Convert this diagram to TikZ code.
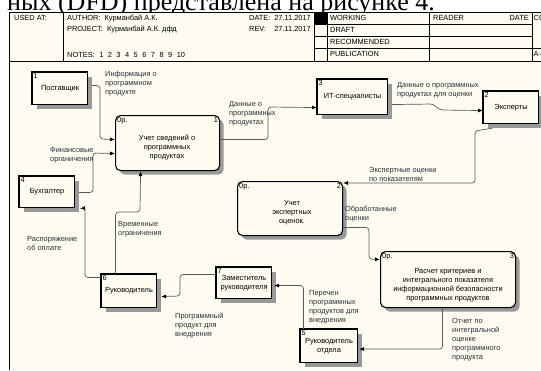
\documentclass[tikz,border=0pt]{standalone}
\usepackage{fontspec}
\setmainfont{Liberation Sans}
\newfontfamily\captionserif{Liberation Serif}
\usetikzlibrary{shadows,arrows.meta}

\definecolor{paper}{RGB}{254,251,240}
\definecolor{flowgray}{RGB}{90,90,90}
\definecolor{labelgray}{RGB}{45,45,55}

\begin{document}
\begin{tikzpicture}[x=1pt, y=-1pt, every node/.style={font=\fontsize{7.4}{9}\selectfont},
		ext/.style={draw, line width=1.1pt, fill=paper, anchor=north west, inner sep=1pt, align=center,
			drop shadow={shadow xshift=4pt, shadow yshift=-4pt, fill=black!40, opacity=1}},
		proc/.style={ext, rounded corners=5pt},
		flow/.style={draw=flowgray, line width=0.7pt, rounded corners=3pt, -{Latex[length=5pt, width=4pt, color=black]}},
		lbl/.style={anchor=north west, inner sep=0pt, align=left, text=labelgray},
		hdr/.style={anchor=base west, inner sep=0pt}]
			\useasboundingbox (0,0) rectangle (541,370);
			\clip (0,0) rectangle (541,370);

			% Caption line above the form
			\node[anchor=base west, inner sep=0pt, font=\captionserif\fontsize{26}{26}\selectfont] (caption) at (7,10) {ных (DFD) представлена на рисунке 4.};

			% Form frame
			\fill[paper] (10,12) rectangle (541,370);
			\draw[line width=0.8pt] (9.5,370) -- (9.5,12) -- (541,12);
			\draw[line width=0.6pt] (9.5,61) -- (541,61);
			\foreach \x in {63,314,327,429,532} \draw[line width=0.6pt] (\x,12) -- (\x,61);
			\foreach \y in {24,36} \draw[line width=0.6pt] (314,\y) -- (532,\y);
			\draw[line width=0.6pt] (314,48) -- (541,48);
			\fill (314,12) rectangle (327,24);

			% Header texts
			\node[hdr] (usedat) at (14,20.5) {USED AT:};
			\node[hdr] (author) at (67,20.5) {AUTHOR:\ \ Курманбай А.К.};
			\node[hdr] (project) at (67,31.5) {PROJECT:\ \ Курманбай А.К. дфд};
			\node[hdr] (notes) at (67,57.5) {NOTES:\foreach \n in {1,...,10}{\hspace{4.5pt}\n}};
			\node[hdr] (date) at (249,20.5) {DATE:};
			\node[hdr, anchor=base east] (datev) at (311,20.5) {27.11.2017};
			\node[hdr] (rev) at (249,31.5) {REV:};
			\node[hdr, anchor=base east] (revv) at (311,31.5) {27.11.2017};
			\node[hdr] (working) at (330,20.5) {WORKING};
			\node[hdr] (draft) at (330,32.5) {DRAFT};
			\node[hdr] (recommended) at (330,44.5) {RECOMMENDED};
			\node[hdr] (publication) at (330,56.5) {PUBLICATION};
			\node[hdr] (reader) at (433,20.5) {READER};
			\node[hdr, anchor=base east] (readerdate) at (529,20.5) {DATE};
			\node[hdr] (context) at (533.5,20.5) {CO};
			\node[hdr] (nodeno) at (533.5,56.5) {A-0};

			% External entities
			\node[ext, minimum width=55pt, minimum height=32pt] (e1) at (32,72) {Поставщик};
			\node[ext, minimum width=55pt, minimum height=32pt] (e2) at (483,91) {Эксперты};
			\node[ext, minimum width=70pt, minimum height=35pt] (e3) at (317,79) {ИТ-специалисты};
			\node[ext, minimum width=55pt, minimum height=31pt] (e4) at (19,176) {Бухгалтер};
			\node[ext, minimum width=57pt, minimum height=33pt] (e5) at (300,329) {Руководитель\\отдела};
			\node[ext, minimum width=55pt, minimum height=33pt] (e6) at (101,274) {Руководитель};
			\node[ext, minimum width=55pt, minimum height=31pt] (e7) at (216,267) {Заместитель\\руководителя};
			\foreach \e/\n in {e1/1,e2/2,e3/3,e4/4,e5/5,e6/6,e7/7} {
				\draw[line width=2.4pt] (\e.south west) -- (\e.north west) -- (\e.north east);
				\node[anchor=north west, inner sep=1.5pt] (\e-num) at (\e.north west) {\n};
			}

			% Processes
			\node[proc, minimum width=104pt, minimum height=55pt] (p1) at (115,115) {};
			\node[proc, minimum width=105pt, minimum height=54pt] (p2) at (237,181) {};
			\node[proc, minimum width=135pt, minimum height=56pt] (p3) at (380,251) {};
			\node[align=center, inner sep=0pt] (p1-text) at (167,148) {Учет сведений о\\программных\\продуктах};
			\node[align=center, inner sep=0pt] (p2-text) at (292,213) {Учет\\экспертных\\оценок.};
			\node[align=center, inner sep=0pt] (p3-text) at (448,285) {Расчет критериев и\\интегрального показателя\\информационной безопасности\\программных продуктов};
			\foreach \p/\n in {p1/1,p2/2,p3/3} {
				\node[anchor=north west, inner sep=2pt] (\p-id) at (\p.north west) {0р.};
				\node[anchor=north east, inner sep=2pt] (\p-num) at (\p.north east) {\n};
			}

			% Data flows
			\draw[flow] ([xshift=4pt, yshift=3pt]e1.east) -| (100,139) -- ([yshift=3.5pt]p1.west);
			\draw[flow] ([xshift=4pt, yshift=-0.5pt]e4.east) -| (93,153) -- ([yshift=-10.5pt]p1.west);
			\draw[flow] ([xshift=-13.5pt]e6.north) |- (140,212) -- ([xshift=-27pt]p1.south);
			\draw[flow] ([yshift=13.5pt]e6.west) -| (85,208) -- ([xshift=5pt, yshift=-16.5pt]e4.east);
			\draw[flow] ([yshift=3.5pt]p1.east) -| (268,107) -- ([yshift=-10.5pt]e3.west);
			\draw[flow] ([xshift=4pt, yshift=-7.5pt]e3.east) -- (433,104) -- (440,110) -- ([yshift=-3pt]e2.west);
			\draw[flow] ([xshift=-18.5pt, yshift=-4pt]e2.south) -- (475,131) |- ([yshift=-2pt]p2.north east);
			\draw[flow] ([yshift=-19pt]p2.east) -| (369,259) -- ([yshift=20pt]p3.west);
			\draw[flow] ([xshift=-5.5pt]p3.south) |- ([xshift=1pt, yshift=-3pt]e5.east);
			\draw[flow] ([xshift=-25.5pt]e5.north) |- ([xshift=2pt, yshift=-2.5pt]e7.east);
			\draw[flow] ([yshift=8.5pt]e7.west) -| (180,296) -- ([xshift=4pt, yshift=-5.5pt]e6.east);

			% Flow labels
			\node[lbl] (l1) at (105,71) {Информация о\\программном\\продукте};
			\node[lbl] (l2) at (50,147) {Финансовые\\органичения};
			\node[lbl] (l3) at (118,221) {Временные\\ограничения};
			\node[lbl] (l4) at (27,236) {Распоряжение\\об оплате};
			\node[lbl] (l5) at (229,101) {Данные о\\программных\\продуктах};
			\node[lbl] (l6) at (397,82) {Данные о программных\\продуктах для оценки};
			\node[lbl] (l7) at (369,167) {Экспертные оценки\\по показателям};
			\node[lbl] (l8) at (345,206) {Обработанные\\оценки};
			\node[lbl] (l9) at (452,318) {Отчет по\\интегральной\\оценке\\программного\\продукта};
			\node[lbl] (l10) at (309,290) {Перечен\\программных\\продуктов для\\внедрения};
			\node[lbl] (l11) at (175,313) {Программный\\продукт для\\внедрения};
		\end{tikzpicture}
\end{document}
